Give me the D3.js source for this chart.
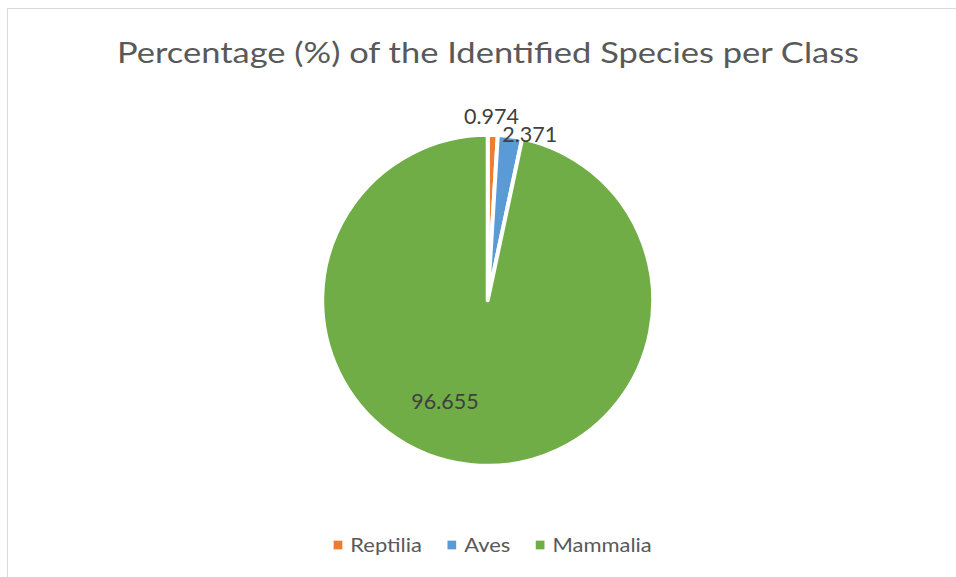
<!DOCTYPE html>
<html><head><meta charset="utf-8">
<script src="https://cdn.jsdelivr.net/npm/d3@7/dist/d3.min.js"></script>
<style>html,body{margin:0;padding:0;background:#fff;overflow:hidden}</style>
</head><body>
<svg id="chart" width="956" height="577"></svg>
<script>
const categories = ["Reptilia", "Aves", "Mammalia"];
const values = [0.974, 2.371, 96.655];
const colors = ["#ED7D31", "#5B9BD5", "#70AD47"];
const title = "Percentage (%) of the Identified Species per Class";

const W = 956, H = 577;
const svg = d3.select("#chart");
const FONT = "Lato, 'Open Sans', sans-serif";

// chart border
svg.append("rect").attr("x", 7.5).attr("y", 8.5).attr("width", W + 20).attr("height", H + 20)
  .attr("fill", "#fff").attr("stroke", "#D9D9D9").attr("stroke-width", 1);

// title
svg.append("text").attr("x", 488).attr("y", 62.5).attr("text-anchor", "middle")
  .attr("font-family", FONT).attr("font-size", 29).attr("fill", "#595959")
  .attr("textLength", 742).attr("lengthAdjust", "spacingAndGlyphs")
  .text(title);

// pie
const cx = 487.7, cy = 300.3, R = 165.5;
const data = categories.map((c, i) => ({ cat: c, value: values[i], color: colors[i] }));
const pie = d3.pie().value(d => d.value).sort(null);
const arcs = pie(data);
const arc = d3.arc().innerRadius(0).outerRadius(R);
const g = svg.append("g").attr("transform", `translate(${cx},${cy})`);
g.selectAll("path").data(arcs).join("path")
  .attr("d", arc).attr("fill", d => d.data.color)
  .attr("stroke", "#fff").attr("stroke-width", 4).attr("stroke-linejoin", "round");

// data labels (best-fit style placement)
const deg = Math.PI / 180;
const labelLayout = [
  { angle: 1.2 * deg, radius: 184 },
  { angle: 14.2 * deg, radius: 171 },
  { angle: 202.8 * deg, radius: 110 }
];
g.selectAll("text.lbl").data(arcs).join("text").attr("class", "lbl")
  .attr("transform", (d, i) => `translate(${d3.pointRadial(labelLayout[i].angle, labelLayout[i].radius)})`)
  .attr("text-anchor", "middle").attr("dy", "0.36em")
  .attr("font-family", FONT).attr("font-size", 21.5).attr("fill", "#404040")
  .text(d => d3.format(".3f")(d.data.value));

// legend
const legendY = 545, sq = 8.7, gapText = 8, gapItem = 25.5, legFont = 18.6, stretch = 1.18;
const leg = svg.append("g");
const items = leg.selectAll("g").data(data).join("g");
items.append("rect").attr("width", sq).attr("height", sq).attr("y", -sq / 2)
  .attr("fill", d => d.color);
items.append("text").attr("x", sq + gapText).attr("y", 6.7)
  .attr("font-family", FONT).attr("font-size", legFont).attr("fill", "#595959")
  .text(d => d.cat)
  .each(function () {
    const t = d3.select(this);
    t.attr("textLength", this.getComputedTextLength() * stretch).attr("lengthAdjust", "spacingAndGlyphs");
  });
const widths = [];
items.each(function () {
  const tw = +d3.select(this).select("text").attr("textLength");
  widths.push(sq + gapText + tw);
});
const total = d3.sum(widths) + gapItem * (widths.length - 1);
let x0 = 492.7 - total / 2;
items.attr("transform", (d, i) => {
  const t = `translate(${x0},${legendY})`;
  x0 += widths[i] + gapItem;
  return t;
});
</script>
</body></html>
